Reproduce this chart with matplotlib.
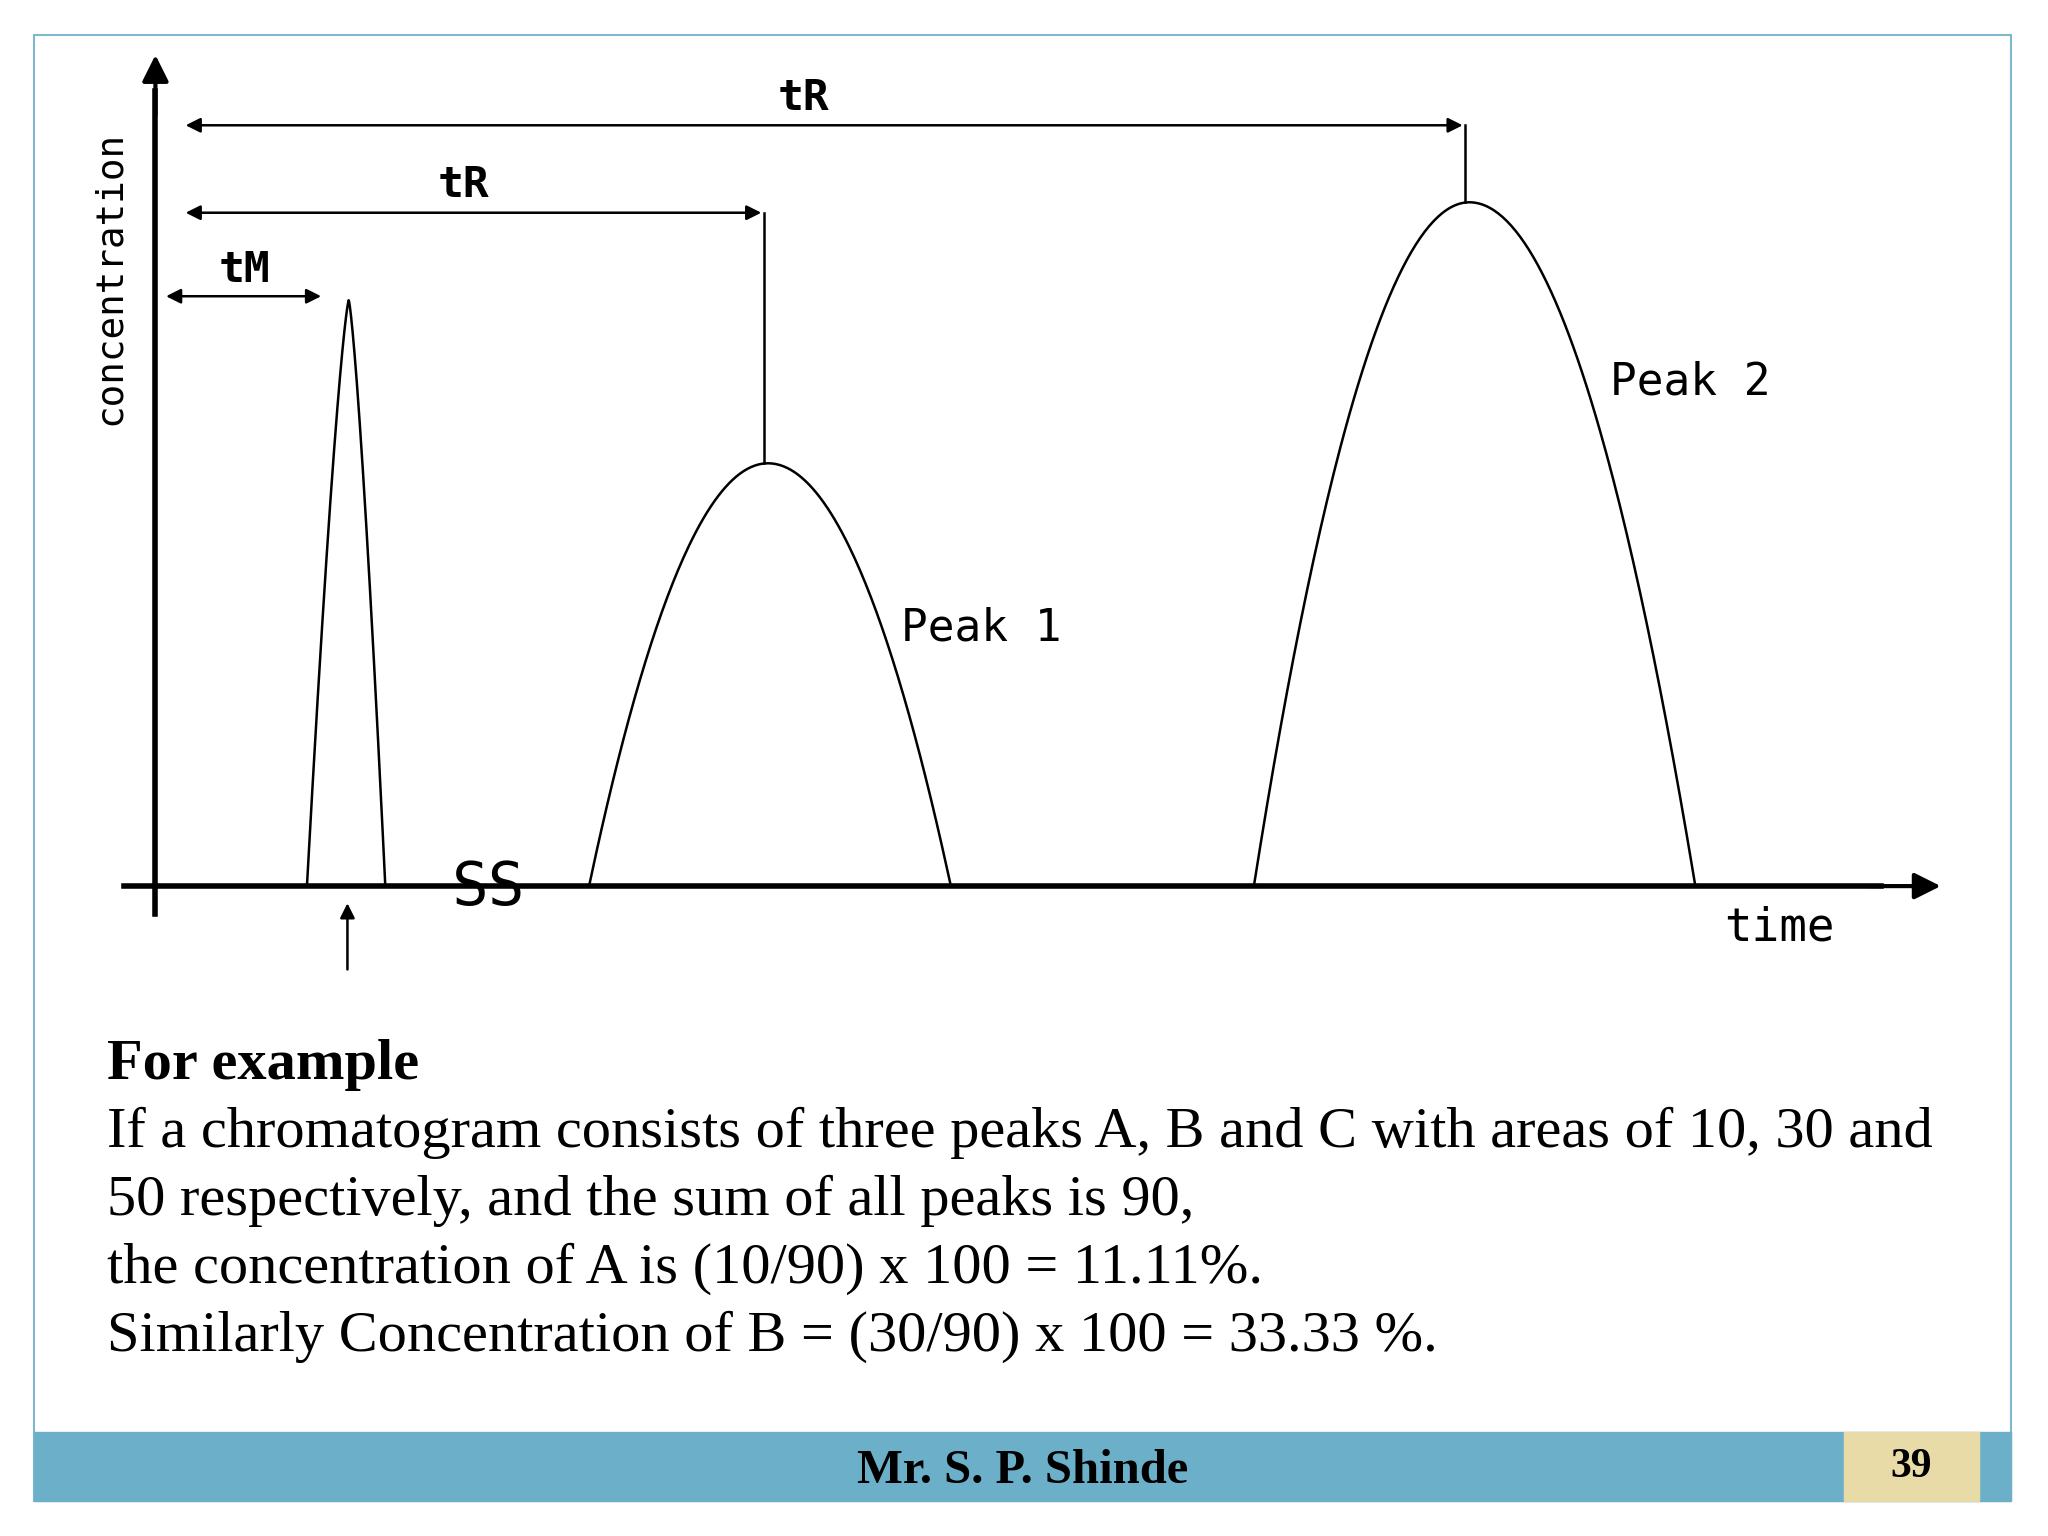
import numpy as np
import matplotlib
matplotlib.use("Agg")
import matplotlib.pyplot as plt
from matplotlib.patches import Rectangle

# page coordinates (reference scaled to about 1568 x 1177)
W, H = 1568, 1177
baseline = 679
y_axis_x = 119

# peaks: name, center, left base, right base, apex height (page y)
peak_names = ["tM", "Peak 1", "Peak 2"]
peak_centers = [267, 588, 1125]
peak_left = [235, 451, 960]
peak_right = [295, 728, 1298]
peak_top = [230, 355, 155]

# retention arrows: label, y level, end x, label x
arrow_labels = ["tR", "tR", "tM"]
arrow_y = [96, 163, 227]
arrow_end = [1122, 585, 248]
arrow_start = [140, 140, 125]
label_pos = [(615, 75), (355, 142), (187, 207)]

text_lines = [
    "If a chromatogram consists of three peaks A, B and C with areas of 10, 30 and",
    "50 respectively, and the sum of all peaks is 90,",
    "the concentration of A is (10/90) x 100 = 11.11%.",
    "Similarly Concentration of B = (30/90) x 100 = 33.33 %.",
]

fig = plt.figure(figsize=(20.48, 15.36), dpi=100)
ax = fig.add_axes([0, 0, 1, 1])
ax.set_xlim(0, W)
ax.set_ylim(H, 0)
ax.axis("off")

# slide frame and footer
ax.add_patch(Rectangle((26, 27), 1514, 1123, fill=False, edgecolor="#7FB7CC", lw=1.5))
ax.add_patch(Rectangle((26, 1097), 1514, 53, color="#6BB0C8"))
ax.add_patch(Rectangle((1412, 1097), 103, 53, color="#E8DBA8"))
ax.text(783, 1127, "Mr. S. P. Shinde", ha="center", va="center", fontsize=35,
        fontweight="bold", family="Liberation Serif")
ax.text(1463, 1124, "39", ha="center", va="center", fontsize=30,
        fontweight="bold", family="Liberation Serif")

# axes of chromatogram
ax.plot([y_axis_x, y_axis_x], [700, 70], color="black", lw=4)
ax.annotate("", xy=(y_axis_x, 40), xytext=(y_axis_x, 90),
            arrowprops=dict(arrowstyle="-|>", color="black", lw=3, mutation_scale=40))
ax.plot([95, 1440], [baseline, baseline], color="black", lw=4)
ax.annotate("", xy=(1488, baseline), xytext=(1430, baseline),
            arrowprops=dict(arrowstyle="-|>", color="black", lw=3, mutation_scale=40))

# peaks
for c, l, r, t in zip(peak_centers, peak_left, peak_right, peak_top):
    xs = np.linspace(l, r, 200)
    w = np.where(xs < c, c - l, r - c)
    u = (xs - c) / w
    if r - l < 100:
        ys = baseline - (baseline - t) * (1 - np.abs(u) ** 1.3)
    else:
        ys = baseline - (baseline - t) * (1 - u ** 2)
    ax.plot(xs, ys, color="black", lw=1.8)

# retention arrows
for lab, y, x0, x1, (lx, ly) in zip(arrow_labels, arrow_y, arrow_start, arrow_end, label_pos):
    ax.annotate("", xy=(x1, y), xytext=(x0, y),
                arrowprops=dict(arrowstyle="<|-|>", color="black", lw=1.8, mutation_scale=22))
    ax.text(lx, ly, lab, ha="center", va="center", fontsize=31, fontweight="bold",
            family="DejaVu Sans Mono")
ax.plot([1122, 1122], [96, 155], color="black", lw=1.8)
ax.plot([585, 585], [163, 355], color="black", lw=1.8)

ax.annotate("", xy=(266, 690), xytext=(266, 745),
            arrowprops=dict(arrowstyle="-|>", color="black", lw=1.8, mutation_scale=22))

mono = dict(family="DejaVu Sans Mono", color="black")
ax.text(690, 481, "Peak 1", va="center", fontsize=32, **mono)
ax.text(1233, 293, "Peak 2", va="center", fontsize=32, **mono)
ax.text(1320, 711, "time", va="center", fontsize=33, **mono)
ax.text(374, 681, "SS", ha="center", va="center", fontsize=44, **mono)
ax.text(84, 213, "concentration", ha="center", va="center", rotation=90, fontsize=27, **mono)

# explanatory text
ax.text(82, 816, "For example", va="center", fontsize=42, fontweight="bold",
        family="Liberation Serif")
for i, line in enumerate(text_lines):
    ax.text(82, 868 + 52 * i, line, va="center", fontsize=42, family="Liberation Serif")

fig.savefig("out.png", dpi=100)
